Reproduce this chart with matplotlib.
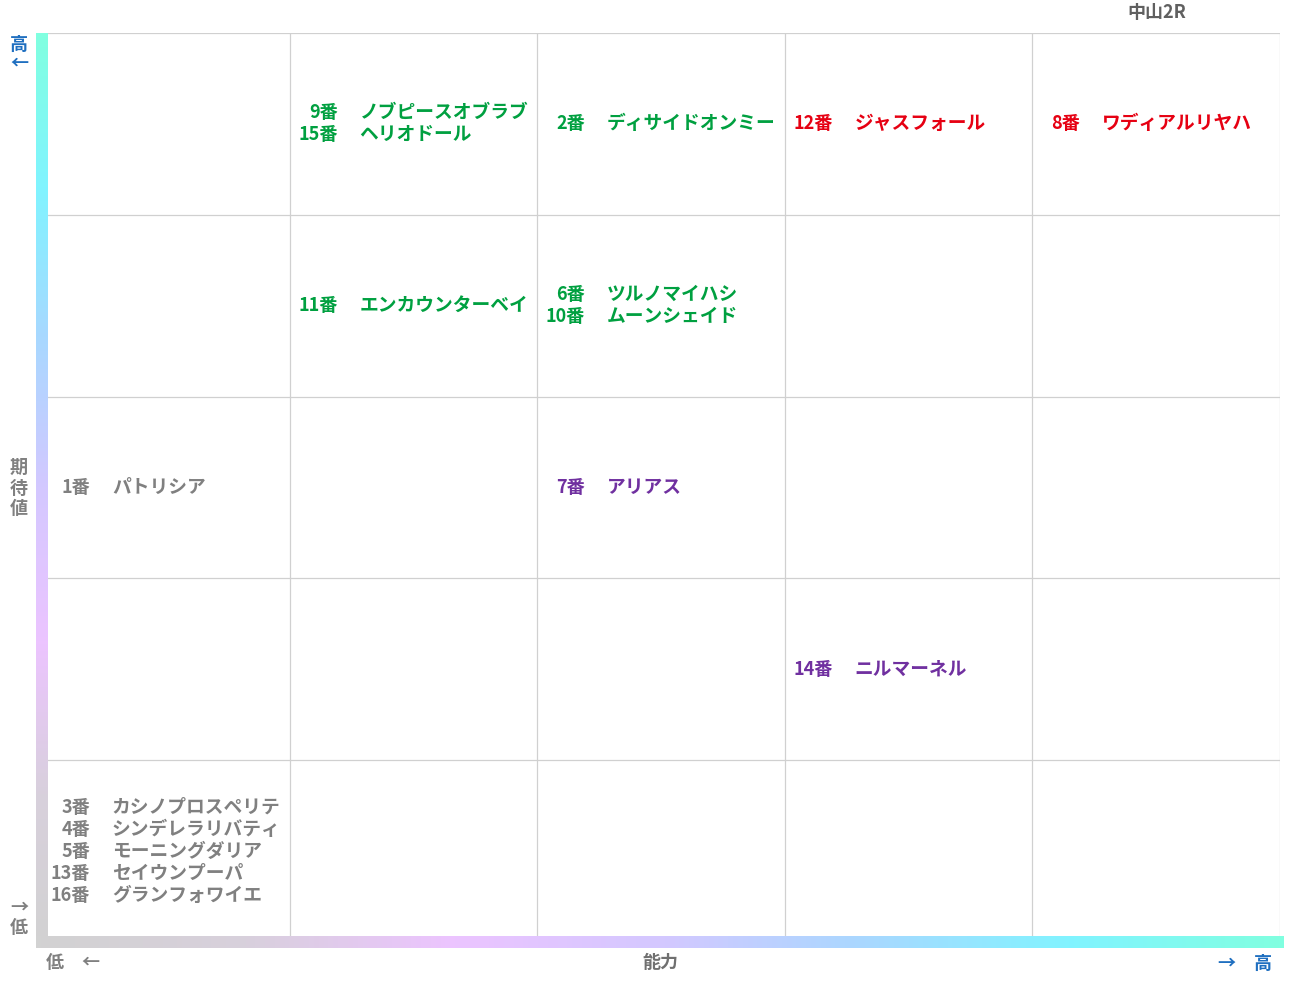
import numpy as np
import matplotlib.pyplot as plt
from matplotlib.colors import LinearSegmentedColormap

plt.rcParams['font.family'] = ['Noto Sans CJK JP', 'DejaVu Sans']

W, H = 1291, 983
# horses: number, name, column (能力 0..4), row from top (0..4)
nums = ['9番', '15番', '2番', '12番', '8番', '11番', '6番', '10番', '1番', '7番', '14番',
        '3番', '4番', '5番', '13番', '16番']
names = ['ノブピースオブラブ', 'ヘリオドール', 'ディサイドオンミー', 'ジャスフォール', 'ワディアルリヤハ',
         'エンカウンターベイ', 'ツルノマイハシ', 'ムーンシェイド', 'パトリシア', 'アリアス', 'ニルマーネル',
         'カシノプロスペリテ', 'シンデレラリバティ', 'モーニングダリア', 'セイウンプーパ', 'グランフォワイエ']
cols = [1, 1, 2, 3, 4, 1, 2, 2, 0, 2, 3, 0, 0, 0, 0, 0]
rows = [0, 0, 0, 0, 0, 1, 1, 1, 2, 2, 3, 4, 4, 4, 4, 4]
colors = ['#00a040'] * 3 + ['#e60012'] * 2 + ['#00a040'] * 3 + ['#808080', '#7030a0', '#7030a0'] + ['#808080'] * 5

fig = plt.figure(figsize=(W / 100, H / 100), dpi=100)

def px_axes(x0, y0, x1, y1):
    return fig.add_axes([x0 / W, 1 - y1 / H, (x1 - x0) / W, (y1 - y0) / H])

# grid
ax = px_axes(42, 33, 1280, 942)
ax.set_xlim(0, 5)
ax.set_ylim(5, 0)
for v in range(6):
    ax.axvline(v, color='#d0d0d0', lw=0.9)
    ax.axhline(v, color='#d0d0d0', lw=0.9)
ax.set_xticks([])
ax.set_yticks([])
for s in ax.spines.values():
    s.set_visible(False)

# place entries in each cell
groups = {}
for i in range(len(nums)):
    groups.setdefault((cols[i], rows[i]), []).append(i)
dx_num, dx_name, dy = 48 / 248, 70 / 248, 22 / 182
for (c, r), idx in groups.items():
    n = len(idx)
    for k, i in enumerate(idx):
        y = r + 0.5 + (k - (n - 1) / 2) * dy
        ax.text(c + dx_num, y, nums[i], ha='right', va='center', fontsize=13,
                fontweight='bold', color=colors[i])
        ax.text(c + dx_name, y, names[i], ha='left', va='center', fontsize=13.5,
                fontweight='bold', color=colors[i])

# gradient axis bars
grad = ['#80ffe0', '#80f4ff', '#a8d8ff', '#d4c8ff', '#ecc4ff', '#d8d0dc', '#d2d2d2']
cmap = LinearSegmentedColormap.from_list('g', grad)
av = px_axes(36, 33, 48, 948)
av.imshow(np.linspace(0, 1, 256).reshape(-1, 1), aspect='auto', cmap=cmap)
av.axis('off')
ah = px_axes(36, 936, 1284, 948)
ah.imshow(np.linspace(1, 0, 256).reshape(1, -1), aspect='auto', cmap=cmap)
ah.axis('off')

# labels
kw = dict(fontsize=13, fontweight='bold', ha='center', va='center')
fig.text(19 / W, 1 - 54 / H, '高\n←', color='#1f6fc0', linespacing=1.0, **kw)
fig.text(19 / W, 1 - 488 / H, '期\n待\n値', color='#808080', linespacing=1.1, **kw)
fig.text(19 / W, 1 - 917 / H, '→\n低', color='#808080', linespacing=1.1, **kw)
fig.text(73 / W, 1 - 963 / H, '低　←', color='#808080', **kw)
fig.text(660 / W, 1 - 963 / H, '能力', color='#707070', **kw)
fig.text(1245 / W, 1 - 963 / H, '→　高', color='#1f6fc0', **kw)
fig.text(1157 / W, 1 - 12 / H, '中山2R', color='#606060', **kw)

fig.savefig('out.png', dpi=100)
